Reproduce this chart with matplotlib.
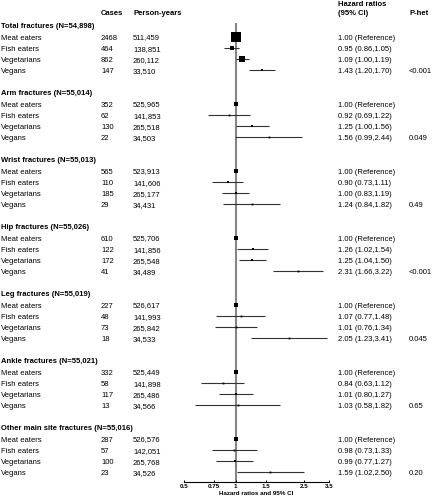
import matplotlib
matplotlib.use("Agg")
import matplotlib.pyplot as plt
from matplotlib.transforms import blended_transform_factory
from matplotlib.ticker import FixedLocator, NullLocator

plt.rcParams['font.family'] = ['Liberation Sans', 'DejaVu Sans']

# data
groups = ["Total fractures (N=54,898)", "Arm fractures (N=55,014)",
          "Wrist fractures (N=55,013)", "Hip fractures (N=55,026)",
          "Leg fractures (N=55,019)", "Ankle fractures (N=55,021)",
          "Other main site fractures (N=55,016)"]
diets = ["Meat eaters", "Fish eaters", "Vegetarians", "Vegans"]

cases = [[2468, 464, 862, 147],
         [352, 62, 130, 22],
         [565, 110, 185, 29],
         [610, 122, 172, 41],
         [227, 48, 73, 18],
         [332, 58, 117, 13],
         [287, 57, 100, 23]]
person_years = [["511,459", "138,851", "260,112", "33,510"],
                ["525,965", "141,853", "265,518", "34,503"],
                ["523,913", "141,606", "265,177", "34,431"],
                ["525,706", "141,856", "265,548", "34,489"],
                ["526,617", "141,993", "265,842", "34,533"],
                ["525,449", "141,898", "265,486", "34,566"],
                ["526,576", "142,051", "265,768", "34,526"]]
hr = [[1.00, 0.95, 1.09, 1.43],
      [1.00, 0.92, 1.25, 1.56],
      [1.00, 0.90, 1.00, 1.24],
      [1.00, 1.26, 1.25, 2.31],
      [1.00, 1.07, 1.01, 2.05],
      [1.00, 0.84, 1.01, 1.03],
      [1.00, 0.98, 0.99, 1.59]]
lo = [[1.00, 0.86, 1.00, 1.20],
      [1.00, 0.69, 1.00, 0.99],
      [1.00, 0.73, 0.83, 0.84],
      [1.00, 1.02, 1.04, 1.66],
      [1.00, 0.77, 0.76, 1.23],
      [1.00, 0.63, 0.80, 0.58],
      [1.00, 0.73, 0.77, 1.02]]
hi = [[1.00, 1.05, 1.19, 1.70],
      [1.00, 1.22, 1.56, 2.44],
      [1.00, 1.11, 1.19, 1.82],
      [1.00, 1.54, 1.50, 3.22],
      [1.00, 1.48, 1.34, 3.41],
      [1.00, 1.12, 1.27, 1.82],
      [1.00, 1.33, 1.27, 2.50]]
p_het = ["<0.001", "0.049", "0.49", "<0.001", "0.045", "0.65", "0.20"]
ticks = [0.5, 0.75, 1, 1.5, 2.5, 3.5]
tick_labels = ["0.5", "0.75", "1", "1.5", "2.5", "3.5"]

W, H = 432, 500
fig = plt.figure(figsize=(W / 100, H / 100), dpi=100)

# forest axes; y runs in pixel-like units from the top
ax_top, ax_bot = 23, 482.3
ax = fig.add_axes([184 / W, 1 - ax_bot / H, 145 / W, (ax_bot - ax_top) / H])
ax.set_xscale('log')
ax.set_xlim(0.5, 3.5)
ax.set_ylim(ax_bot, ax_top)
for s in ['top', 'right', 'left']:
    ax.spines[s].set_visible(False)
ax.spines['bottom'].set_linewidth(0.8)
ax.yaxis.set_major_locator(NullLocator())
ax.xaxis.set_major_locator(FixedLocator(ticks))
ax.xaxis.set_minor_locator(NullLocator())
ax.set_xticklabels(tick_labels, fontsize=4.5, fontweight='bold')
ax.tick_params(axis='x', direction='in', length=1.6, width=0.7, pad=1.2)
ax.set_xlabel("Hazard ratios and 95% CI", fontsize=4.5, fontweight='bold', labelpad=1.5)

ax.axvline(1, color='#858585', lw=1.5, zorder=1)

tr = blended_transform_factory(fig.transFigure, ax.transData)
fs = 5.5


def put(xpx, y, s, bold=False):
    ax.text(xpx / W, y, s, transform=tr, fontsize=fs, va='center_baseline', ha='left',
            fontweight='bold' if bold else 'normal', clip_on=False)


period, first_head, head_gap, row_gap = 67.0, 25.0, 12.0, 11.1

put(101, first_head - 12.3, "Cases", bold=True)
put(133, first_head - 12.3, "Person-years", bold=True)
put(337.5, first_head - 22, "Hazard ratios", bold=True)
put(337.5, first_head - 12.3, "(95% CI)", bold=True)
put(409, first_head - 12.3, "P-het", bold=True)

for g, name in enumerate(groups):
    yh = first_head + g * period
    put(1, yh, name, bold=True)
    for i, d in enumerate(diets):
        y = yh + head_gap + i * row_gap
        put(1, y, d)
        put(101, y, str(cases[g][i]))
        put(133, y, person_years[g][i])
        if i == 0:
            put(337.5, y, "1.00 (Reference)")
        else:
            put(337.5, y, f"{hr[g][i]:.2f} ({lo[g][i]:.2f},{hi[g][i]:.2f})")
            ax.hlines(y, lo[g][i], hi[g][i], color='#333333', lw=0.8, zorder=2)
        side_px = max(10 * (cases[g][i] / 2468) ** 0.5, 1.8)
        ax.plot(hr[g][i], y, 's', color='black', ms=side_px * 0.72, mew=0, zorder=3)
    put(409, yh + head_gap + 3 * row_gap, p_het[g])

fig.savefig("out.png", dpi=100)
